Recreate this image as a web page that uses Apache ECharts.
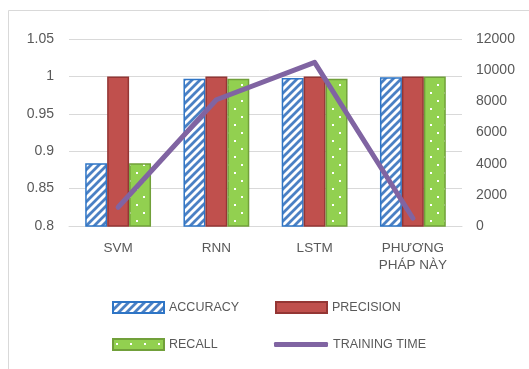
<!DOCTYPE html>
<html>
<head>
<meta charset="utf-8">
<script src="https://cdn.jsdelivr.net/npm/echarts@6/dist/echarts.min.js"></script>
<style>
  html, body { margin: 0; padding: 0; background: #fff; }
  #chart { width: 529px; height: 369px; }
</style>
</head>
<body>
<div id="chart"></div>
<script>
// Model comparison: scores on the left axis, training time on the right axis
const categories = ['SVM', 'RNN', 'LSTM', 'PHƯƠNG\nPHÁP NÀY'];
const accuracy = [0.884, 0.997, 0.998, 0.999];
const precision = [1.0, 1.0, 1.0, 1.0];
const recall = [0.884, 0.997, 0.997, 1.0];
const trainingTime = [1200, 8100, 10500, 500];
const scoreTicks = { min: 0.8, max: 1.05, interval: 0.05 };
const timeTicks = { min: 0, max: 12000, interval: 2000 };

// Tiled fill: blue diagonal stripes on white
function stripePattern() {
  const c = document.createElement('canvas');
  c.width = 8; c.height = 8;
  const g = c.getContext('2d');
  g.fillStyle = '#ffffff';
  g.fillRect(0, 0, 8, 8);
  g.strokeStyle = '#4a80c4';
  g.lineWidth = 2.8;
  g.beginPath();
  g.moveTo(-2, 10); g.lineTo(10, -2);
  g.moveTo(-2, 2); g.lineTo(2, -2);
  g.moveTo(6, 10); g.lineTo(10, 6);
  g.stroke();
  return { image: c, repeat: 'repeat' };
}

// Tiled fill: green with small white dots
function dotPattern() {
  const c = document.createElement('canvas');
  c.width = 14; c.height = 16;
  const g = c.getContext('2d');
  g.fillStyle = '#92d050';
  g.fillRect(0, 0, 14, 16);
  g.fillStyle = '#ffffff';
  g.fillRect(3, 4, 2, 2);
  g.fillRect(10, 12, 2, 2);
  return { image: c, repeat: 'repeat' };
}

const textColor = '#595959';
const fontFamily = '"Liberation Sans", Arial, sans-serif';
const gridColor = '#d9d9d9';

const chart = echarts.init(document.getElementById('chart'), null, { renderer: 'canvas' });

// One legend block per entry so each sits in its own column
function legendEntry(name, left, top, extra) {
  return Object.assign({
    left: left,
    top: top,
    data: [name],
    itemWidth: 51,
    itemHeight: 11,
    icon: 'rect',
    selectedMode: false,
    textStyle: { color: textColor, fontSize: 12.5, fontFamily: fontFamily, padding: [0, 0, 0, 0] }
  }, extra || {});
}

chart.setOption({
  backgroundColor: '#ffffff',
  animation: false,
  graphic: [{
    type: 'rect',
    shape: { x: 8.5, y: 10.5, width: 600, height: 400 },
    style: { fill: 'none', stroke: '#d9d9d9', lineWidth: 1 },
    silent: true,
    z: -10
  }],
  legend: [
    legendEntry('ACCURACY', 107, 296),
    legendEntry('PRECISION', 270, 296),
    legendEntry('RECALL', 107, 333),
    legendEntry('TRAINING TIME', 269, 333, { itemWidth: 54, itemHeight: 5, icon: 'roundRect' })
  ],
  grid: { left: 69, right: 67, top: 39, bottom: 143, containLabel: false },
  xAxis: {
    type: 'category',
    data: categories,
    axisLine: { lineStyle: { color: gridColor, width: 1 } },
    axisTick: { show: false },
    axisLabel: {
      color: textColor, fontSize: 13.5, fontFamily: fontFamily,
      margin: 14, lineHeight: 17, interval: 0
    }
  },
  yAxis: [{
    type: 'value',
    min: scoreTicks.min, max: scoreTicks.max, interval: scoreTicks.interval,
    axisLine: { show: false },
    axisTick: { show: false },
    splitLine: { lineStyle: { color: gridColor, width: 1 } },
    axisLabel: { color: textColor, fontSize: 14, fontFamily: fontFamily, margin: 15 }
  }, {
    type: 'value',
    min: timeTicks.min, max: timeTicks.max, interval: timeTicks.interval,
    axisLine: { show: false },
    axisTick: { show: false },
    splitLine: { show: false },
    axisLabel: {
      color: textColor, fontSize: 14, fontFamily: fontFamily, margin: 14,
      formatter: function (v) { return String(v); }
    }
  }],
  series: [{
    name: 'ACCURACY',
    type: 'bar',
    data: accuracy,
    barGap: '0%',
    barCategoryGap: '33%',
    itemStyle: { color: stripePattern(), borderColor: '#2e75c6', borderWidth: 1.5 }
  }, {
    name: 'PRECISION',
    type: 'bar',
    data: precision,
    itemStyle: { color: '#c0504d', borderColor: '#943634', borderWidth: 1.5 }
  }, {
    name: 'RECALL',
    type: 'bar',
    data: recall,
    itemStyle: { color: dotPattern(), borderColor: '#71a03a', borderWidth: 1.5 }
  }, {
    name: 'TRAINING TIME',
    type: 'line',
    yAxisIndex: 1,
    data: trainingTime,
    symbol: 'none',
    showSymbol: false,
    z: 5,
    lineStyle: { color: '#8064a2', width: 5, cap: 'round', join: 'round' },
    itemStyle: { color: '#8064a2' }
  }]
});
</script>
</body>
</html>
